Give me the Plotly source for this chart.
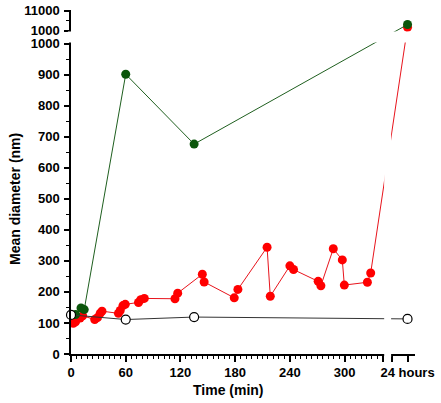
import plotly.graph_objects as go

# ---------------- data ----------------
red_t = [2.5, 5, 10, 12.8, 26, 29, 32, 34, 52, 54, 57, 59.5, 74, 76.5, 80.4,
         114, 117, 144, 146, 179, 183, 215, 218.5, 240, 244, 271, 274,
         287.6, 297.5, 299.7, 325, 328.6]
red_v = [99, 104, 116, 123, 111, 117, 131, 138, 131, 140, 156, 160, 166, 175, 179,
         178, 196, 257, 232, 181, 208, 344, 186, 284, 272, 234, 220,
         339, 303, 222, 231, 261]
red_24h = 2600

green_t = [5, 11, 14.5, 60, 135]
green_v = [127, 148, 143, 901, 676]
green_24h = 4000

open_t = [0, 60, 135]
open_v = [126, 111, 119]
open_24h = 113

y_major = [0, 100, 200, 300, 400, 500, 600, 700, 800, 900, 1000]
y_top_labels = [1000, 11000]
y_top_minor = [6000]
x_major = [0, 60, 120, 180, 240, 300]
label_24h = "24 hours"

# ---------------- broken-axis scale ----------------
PX_PER_MIN = 0.912
PX_PER_NM = 0.3105
X_MAIN_END = 342                      # end of the minute segment
X_RIGHT_START = X_MAIN_END + 10.0     # start of the "24 hours" segment
X_24H = 369.0
X_END = 377.2
Y_MAIN_END = 1000
Y_TOP0 = 1000 + 13 / PX_PER_NM        # position of the upper-segment "1000"
Y_TOP_SPAN = 20 / PX_PER_NM           # 1000 -> 11000 span in the upper segment
Y_END = 1108

PLOT_W = X_END * PX_PER_MIN           # 344 px
PLOT_H = Y_END * PX_PER_NM            # 344 px


def ytop(v):
    """position of a value on the upper (1000-11000) segment"""
    return Y_TOP0 + (v - 1000) / 10000 * Y_TOP_SPAN


def yv(v):
    return v if v <= Y_MAIN_END else ytop(v)


def series(ts, vs, v24):
    return list(ts) + [X_24H], [yv(v) for v in vs] + [yv(v24)]


fig = go.Figure()

rx, ry = series(red_t, red_v, red_24h)
fig.add_trace(go.Scatter(x=rx, y=ry, mode="lines+markers",
                         line=dict(color="#e8141c", width=1),
                         marker=dict(color="#ff0000", size=9),
                         cliponaxis=False, showlegend=False))
gx, gy = series(green_t, green_v, green_24h)
fig.add_trace(go.Scatter(x=gx, y=gy, mode="lines+markers",
                         line=dict(color="#1f5f1f", width=1),
                         marker=dict(color="#0b560b", size=9),
                         cliponaxis=False, showlegend=False))
ox, oy = series(open_t, open_v, open_24h)
fig.add_trace(go.Scatter(x=ox, y=oy, mode="lines+markers",
                         line=dict(color="#333333", width=1),
                         marker=dict(color="white", size=9,
                                     line=dict(color="black", width=1.2)),
                         cliponaxis=False, showlegend=False))

font_family = "Liberation Sans, Arial, sans-serif"
tick_font = dict(family=font_family, size=13, color="black", weight="bold")

x_minor = [m for m in range(0, X_MAIN_END, 6) if m % 60 != 0]
fig.update_xaxes(
    range=[0, X_END], showgrid=False, zeroline=False, automargin=False,
    showline=True, linecolor="black", linewidth=1.5,
    ticks="outside", ticklen=6, tickwidth=1.5, tickcolor="black",
    tickmode="array",
    tickvals=x_major + [X_MAIN_END, X_RIGHT_START, X_24H],
    ticktext=[str(v) for v in x_major] + ["", "", label_24h],
    tickfont=tick_font,
    minor=dict(tickmode="array", tickvals=x_minor, ticks="outside",
               ticklen=3, tickwidth=1.2, tickcolor="black", showgrid=False),
)

y_minor = [v + 50 for v in y_major[:-1]] + [ytop(v) for v in y_top_minor]
fig.update_yaxes(
    range=[0, Y_END], showgrid=False, zeroline=False, automargin=False,
    showline=True, linecolor="black", linewidth=1.5,
    ticks="outside", ticklen=5, tickwidth=1.5, tickcolor="black",
    tickmode="array", ticklabelstandoff=2,
    tickvals=y_major + [ytop(v) for v in y_top_labels],
    ticktext=[str(v) for v in y_major] + [str(v) for v in y_top_labels],
    tickfont=tick_font,
    minor=dict(tickmode="array", tickvals=y_minor, ticks="outside",
               ticklen=3, tickwidth=1.2, tickcolor="black", showgrid=False),
)

# axis breaks (white gaps)
fig.add_shape(type="rect", xref="x", yref="paper",
              x0=X_MAIN_END + 1.4, x1=X_RIGHT_START - 1.0, y0=-0.009, y1=1.01,
              fillcolor="white", line=dict(width=0), layer="above")
fig.add_shape(type="rect", xref="paper", yref="y",
              x0=-0.009, x1=1.01, y0=Y_MAIN_END + 3, y1=Y_TOP0 - 3,
              fillcolor="white", line=dict(width=0), layer="above")

fig.add_annotation(text="<b>Mean diameter (nm)</b>", textangle=-90,
                   xref="paper", yref="paper", x=-56 / PLOT_W, y=155 / PLOT_H,
                   xanchor="center", yanchor="middle", showarrow=False,
                   font=dict(family=font_family, size=14, color="black"))
fig.add_annotation(text="<b>Time (min)</b>",
                   xref="paper", yref="paper", x=158 / PLOT_W, y=-36 / PLOT_H,
                   xanchor="center", yanchor="middle", showarrow=False,
                   font=dict(family=font_family, size=14, color="black"))

fig.update_layout(
    width=441, height=403,
    margin=dict(l=71, r=441 - 71 - round(PLOT_W), t=10, b=403 - 10 - round(PLOT_H)),
    paper_bgcolor="white", plot_bgcolor="white",
    showlegend=False,
)

# remove the browser's default 8 px body margin so the figure fills the window
fig.write_html("out.html",
               config={"displayModeBar": False},
               post_script="document.body.style.margin='0';document.body.style.overflow='hidden';")
